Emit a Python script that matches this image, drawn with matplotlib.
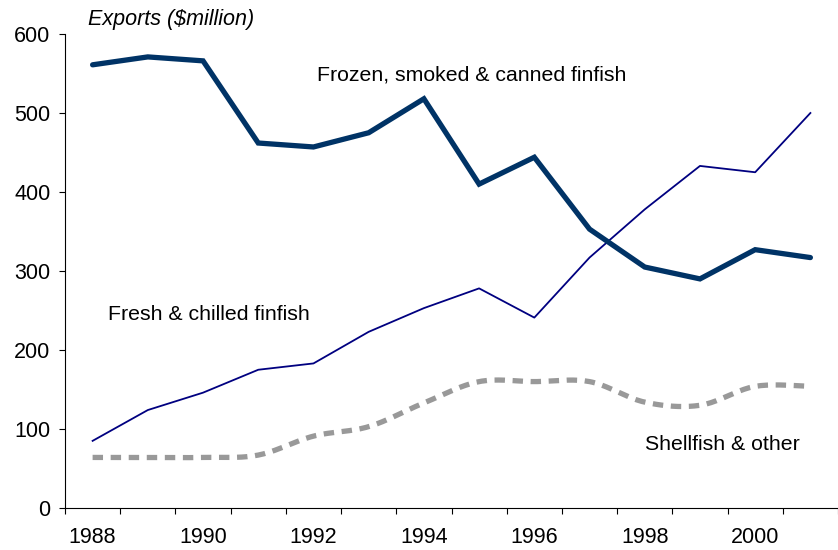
import numpy as np
import matplotlib
matplotlib.use("Agg")
import matplotlib.pyplot as plt

years = list(range(1988, 2002))
frozen = [561, 571, 566, 462, 457, 475, 518, 410, 444, 353, 305, 290, 327, 317]
fresh = [85, 124, 146, 175, 183, 223, 253, 278, 241, 317, 378, 433, 425, 500]
shellfish = [64, 64, 64, 67, 91, 103, 133, 160, 160, 160, 134, 130, 154, 154]
tick_labels = ["1988", "1990", "1992", "1994", "1996", "1998", "2000"]

plt.rcParams['font.family'] = ['Liberation Sans', 'DejaVu Sans']
plt.rcParams['lines.scale_dashes'] = False

W, H = 838, 550
fig = plt.figure(figsize=(W / 100, H / 100), dpi=100)
left, right, top, bottom = 65, 838, 34, 508
ax = fig.add_axes([left / W, 1 - bottom / H, (right - left) / W, (bottom - top) / H])

x = np.arange(len(years))


def smooth(xs, ys, n=20):
    xs = np.asarray(xs, float)
    ys = np.asarray(ys, float)
    px = np.concatenate([[xs[0]], xs, [xs[-1]]])
    py = np.concatenate([[ys[0]], ys, [ys[-1]]])
    ox, oy = [], []
    t = np.linspace(0, 1, n, endpoint=False)
    for i in range(1, len(px) - 2):
        p0 = np.array([px[i], py[i]])
        p3 = np.array([px[i + 1], py[i + 1]])
        p1 = p0 + (np.array([px[i + 1], py[i + 1]]) - np.array([px[i - 1], py[i - 1]])) / 6
        p2 = p3 - (np.array([px[i + 2], py[i + 2]]) - np.array([px[i], py[i]])) / 6
        bx = (1 - t) ** 3 * p0[0] + 3 * (1 - t) ** 2 * t * p1[0] + 3 * (1 - t) * t ** 2 * p2[0] + t ** 3 * p3[0]
        by = (1 - t) ** 3 * p0[1] + 3 * (1 - t) ** 2 * t * p1[1] + 3 * (1 - t) * t ** 2 * p2[1] + t ** 3 * p3[1]
        ox.extend(bx)
        oy.extend(by)
    ox.append(xs[-1])
    oy.append(ys[-1])
    return np.array(ox), np.array(oy)


sx, sy = smooth(x, shellfish)
ax.plot(sx, sy, color='#999999', lw=3.8, dashes=(7.5, 5.5), solid_capstyle='butt',
        dash_capstyle='butt', zorder=2)
ax.plot(x, fresh, color='#000080', lw=1.3, zorder=3)
ax.plot(x, frozen, color='#003366', lw=3.8, solid_capstyle='round',
        solid_joinstyle='miter', zorder=4)

ax.set_ylim(0, 600)
ax.set_xlim(-0.5, (right - 92) / 56)
ax.set_yticks(range(0, 601, 100))
ax.set_xticks(x[::2])
ax.set_xticklabels(tick_labels)
ax.set_xticks(np.arange(-0.5, 13.6, 1), minor=True)

ax.tick_params(axis='x', which='major', length=0, pad=14, labelsize=15.5)
ax.tick_params(axis='x', which='minor', length=4.5, width=0.8, direction='out')
ax.tick_params(axis='y', length=4.5, width=0.8, direction='out', pad=6, labelsize=15.5)

for s in ['top', 'right']:
    ax.spines[s].set_visible(False)
for s in ['left', 'bottom']:
    ax.spines[s].set_linewidth(0.8)
ax.spines['bottom'].set_bounds(-0.5, 14)

fig.text(88 / W, 1 - 25 / H, "Exports ($million)", fontsize=15.5, style='italic',
         ha='left', va='baseline')
for t, (tx, ty) in [("Frozen, smoked & canned finfish", (317, 75)),
                    ("Fresh & chilled finfish", (108, 314)),
                    ("Shellfish & other", (645, 444))]:
    fig.text(tx / W, 1 - ty / H, t, fontsize=15.3, ha='left', va='center')

fig.savefig("out.png", dpi=100)
